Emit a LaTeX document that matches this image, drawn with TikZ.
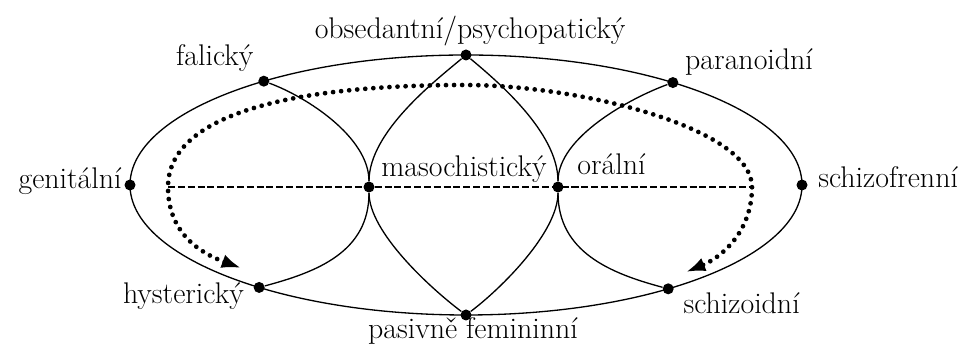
\documentclass[tikz,border=0pt]{standalone}
\usepackage{fontspec}
\usepackage{tikz}
\usetikzlibrary{arrows.meta, positioning, calc, backgrounds}

\begin{document}
\begin{tikzpicture}[x=0.2mm, y=0.2mm,
  every node/.style={font=\fontsize{17}{20}\selectfont},
  dot/.style={circle, fill, inner sep=0pt, minimum size=2.2mm},
  lbl/.style={inner sep=0pt},
  line/.style={line width=0.75pt},
  axis/.style={line width=0.6pt, dash pattern=on 4pt off 1.6pt},
  route/.style={line width=2.7pt, line cap=round, dash pattern=on 0pt off 4.6pt},
  tip/.style={{Latex[length=11pt, width=8pt]}-{Latex[length=11pt, width=8pt]}}
]
\useasboundingbox (0,0) rectangle (964,353);
\coordinate (C) at (466,168);
\node[dot] (gen) at ($(C)+(180:336 and 130)$) {};
\node[dot] (fal) at ($(C)+(127:336 and 130)$) {};
\node[dot] (obs) at ($(C)+(90:336 and 130)$) {};
\node[dot] (par) at ($(C)+(52:336 and 130)$) {};
\node[dot] (sch) at ($(C)+(0:336 and 130)$) {};
\node[dot] (szd) at ($(C)+(-53:336 and 130)$) {};
\node[dot] (pas) at ($(C)+(-90:336 and 130)$) {};
\node[dot] (hys) at ($(C)+(232:336 and 130)$) {};
\node[dot] (maso) at (369,166) {};
\node[dot] (orl) at (558,166) {};

\node[lbl, anchor=base east] (genL) at ($(gen)+(-8,-4)$) {genitální};
\node[lbl, anchor=base east] (falL) at ($(fal)+(-10,16)$) {falický};
\node[lbl, anchor=base] (obsL) at ($(obs)+(4,16)$) {obsedantní/psychopatický};
\node[lbl, anchor=base west] (parL) at ($(par)+(12,13)$) {paranoidní};
\node[lbl, anchor=base west] (schL) at ($(sch)+(16,-3)$) {schizofrenní};
\node[lbl, anchor=base west] (szdL) at ($(szd)+(15,-25)$) {schizoidní};
\node[lbl, anchor=base] (pasL) at ($(pas)+(7,-24)$) {pasivně femininní};
\node[lbl, anchor=base east] (hysL) at ($(hys)+(-15,-16)$) {hysterický};
\node[lbl, anchor=base west] (masoL) at ($(maso)+(12,10)$) {masochistický};
\node[lbl, anchor=base west] (orlL) at ($(orl)+(19,12)$) {orální};

\coordinate (dl) at (241,85);
\coordinate (L) at (168,166);
\coordinate (T) at (465,268);
\coordinate (R) at (752,166);
\coordinate (dr) at (686,81);

\begin{scope}[on background layer]
\draw[line] (C) ellipse [x radius=336, y radius=130];
\draw[line] (fal) .. controls +(-20:45) and +(0,50) .. (maso)
  .. controls +(0,-45) and +(143:45) .. (pas);
\draw[line] (obs) .. controls +(-140:40) and +(0,55) .. (maso)
  .. controls +(0,-65) and +(15:60) .. (hys);
\draw[line] (obs) .. controls +(-40:40) and +(0,55) .. (orl)
  .. controls +(0,-65) and +(165:60) .. (szd);
\draw[line] (par) .. controls +(-160:45) and +(0,50) .. (orl)
  .. controls +(0,-45) and +(37:45) .. (pas);
\draw[axis] (L) -- (R);
\end{scope}
\draw[route, tip]
  (dl) .. controls +(-41,15) and +(0,-46) .. (L)
  .. controls +(0,69) and +(-185,0) .. (T)
  .. controls +(115,0) and +(0,59) .. (R)
  .. controls +(0,-46) and +(34,14) .. (dr);
\end{tikzpicture}
\end{document}
